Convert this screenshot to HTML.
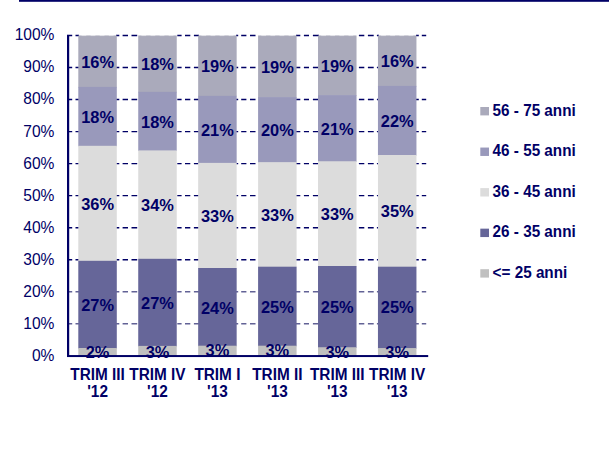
<!DOCTYPE html>
<html lang="it"><head><meta charset="utf-8"><title>Grafico</title>
<style>html,body{margin:0;padding:0;background:#fff}svg{display:block}text{font-family:"Liberation Sans",Arial,Helvetica,sans-serif;fill:#000066}.b{font-weight:bold}</style></head><body>
<svg width="609" height="465" viewBox="0 0 609 465">
<rect x="0" y="0" width="609" height="465" fill="#ffffff"/>
<rect x="19" y="0" width="590" height="1.8" fill="#000066"/>
<path d="M67.0 323.77H72.2M75.5 323.77H79.0M116.0 323.77H119.3M122.6 323.77H128.0M131.5 323.77H137.2M177.3 323.77H181.6M185.0 323.77H190.3M193.9 323.77H199.0M236.0 323.77H238.2M241.2 323.77H246.4M250.0 323.77H255.5M296.0 323.77H300.3M303.9 323.77H309.0M312.9 323.77H319.0M358.9 323.77H364.3M367.9 323.77H373.7M376.9 323.77H379.0M416.0 323.77H418.8M421.8 323.77H426.2" stroke="#626296" stroke-width="1.4" fill="none"/>
<path d="M67.0 291.74H72.2M75.5 291.74H79.0M116.0 291.74H119.3M122.6 291.74H128.0M131.5 291.74H137.2M177.3 291.74H181.6M185.0 291.74H190.3M193.9 291.74H199.0M236.0 291.74H238.2M241.2 291.74H246.4M250.0 291.74H255.5M296.0 291.74H300.3M303.9 291.74H309.0M312.9 291.74H319.0M358.9 291.74H364.3M367.9 291.74H373.7M376.9 291.74H379.0M416.0 291.74H418.8M421.8 291.74H426.2" stroke="#626296" stroke-width="1.4" fill="none"/>
<path d="M67.0 259.71H72.2M75.5 259.71H79.0M116.0 259.71H119.3M122.6 259.71H128.0M131.5 259.71H137.2M177.3 259.71H181.6M185.0 259.71H190.3M193.9 259.71H199.0M236.0 259.71H238.2M241.2 259.71H246.4M250.0 259.71H255.5M296.0 259.71H300.3M303.9 259.71H309.0M312.9 259.71H319.0M358.9 259.71H364.3M367.9 259.71H373.7M376.9 259.71H379.0M416.0 259.71H418.8M421.8 259.71H426.2" stroke="#000066" stroke-width="1.4" fill="none"/>
<path d="M67.0 227.68H72.2M75.5 227.68H79.0M116.0 227.68H119.3M122.6 227.68H128.0M131.5 227.68H137.2M177.3 227.68H181.6M185.0 227.68H190.3M193.9 227.68H199.0M236.0 227.68H238.2M241.2 227.68H246.4M250.0 227.68H255.5M296.0 227.68H300.3M303.9 227.68H309.0M312.9 227.68H319.0M358.9 227.68H364.3M367.9 227.68H373.7M376.9 227.68H379.0M416.0 227.68H418.8M421.8 227.68H426.2" stroke="#000066" stroke-width="1.4" fill="none"/>
<path d="M67.0 195.65H72.2M75.5 195.65H79.0M116.0 195.65H119.3M122.6 195.65H128.0M131.5 195.65H137.2M177.3 195.65H181.6M185.0 195.65H190.3M193.9 195.65H199.0M236.0 195.65H238.2M241.2 195.65H246.4M250.0 195.65H255.5M296.0 195.65H300.3M303.9 195.65H309.0M312.9 195.65H319.0M358.9 195.65H364.3M367.9 195.65H373.7M376.9 195.65H379.0M416.0 195.65H418.8M421.8 195.65H426.2" stroke="#000066" stroke-width="1.4" fill="none"/>
<path d="M67.0 163.62H72.2M75.5 163.62H79.0M116.0 163.62H119.3M122.6 163.62H128.0M131.5 163.62H137.2M177.3 163.62H181.6M185.0 163.62H190.3M193.9 163.62H199.0M236.0 163.62H238.2M241.2 163.62H246.4M250.0 163.62H255.5M296.0 163.62H300.3M303.9 163.62H309.0M312.9 163.62H319.0M358.9 163.62H364.3M367.9 163.62H373.7M376.9 163.62H379.0M416.0 163.62H418.8M421.8 163.62H426.2" stroke="#000066" stroke-width="1.4" fill="none"/>
<path d="M67.0 131.59H72.2M75.5 131.59H79.0M116.0 131.59H119.3M122.6 131.59H128.0M131.5 131.59H137.2M177.3 131.59H181.6M185.0 131.59H190.3M193.9 131.59H199.0M236.0 131.59H238.2M241.2 131.59H246.4M250.0 131.59H255.5M296.0 131.59H300.3M303.9 131.59H309.0M312.9 131.59H319.0M358.9 131.59H364.3M367.9 131.59H373.7M376.9 131.59H379.0M416.0 131.59H418.8M421.8 131.59H426.2" stroke="#000066" stroke-width="1.4" fill="none"/>
<path d="M67.0 99.56H72.2M75.5 99.56H79.0M116.0 99.56H119.3M122.6 99.56H128.0M131.5 99.56H137.2M177.3 99.56H181.6M185.0 99.56H190.3M193.9 99.56H199.0M236.0 99.56H238.2M241.2 99.56H246.4M250.0 99.56H255.5M296.0 99.56H300.3M303.9 99.56H309.0M312.9 99.56H319.0M358.9 99.56H364.3M367.9 99.56H373.7M376.9 99.56H379.0M416.0 99.56H418.8M421.8 99.56H426.2" stroke="#000066" stroke-width="1.4" fill="none"/>
<path d="M67.0 67.53H72.2M75.5 67.53H79.0M116.0 67.53H119.3M122.6 67.53H128.0M131.5 67.53H137.2M177.3 67.53H181.6M185.0 67.53H190.3M193.9 67.53H199.0M236.0 67.53H238.2M241.2 67.53H246.4M250.0 67.53H255.5M296.0 67.53H300.3M303.9 67.53H309.0M312.9 67.53H319.0M358.9 67.53H364.3M367.9 67.53H373.7M376.9 67.53H379.0M416.0 67.53H418.8M421.8 67.53H426.2" stroke="#000066" stroke-width="1.4" fill="none"/>
<path d="M67.0 35.50H72.2M75.5 35.50H79.0M116.0 35.50H119.3M122.6 35.50H128.0M131.5 35.50H137.2M177.3 35.50H181.6M185.0 35.50H190.3M193.9 35.50H199.0M236.0 35.50H238.2M241.2 35.50H246.4M250.0 35.50H255.5M296.0 35.50H300.3M303.9 35.50H309.0M312.9 35.50H319.0M358.9 35.50H364.3M367.9 35.50H373.7M376.9 35.50H379.0M416.0 35.50H418.8M421.8 35.50H426.2" stroke="#000066" stroke-width="1.4" fill="none"/>
<rect x="78.30" y="35.45" width="38.50" height="52.05" fill="#aaaabb"/>
<rect x="78.30" y="86.90" width="38.50" height="59.50" fill="#9999bb"/>
<rect x="78.30" y="145.80" width="38.50" height="115.60" fill="#dcdcdc"/>
<rect x="78.30" y="260.80" width="38.50" height="87.80" fill="#666699"/>
<rect x="78.30" y="348.00" width="38.50" height="8.00" fill="#c0c0c0"/>
<rect x="138.23" y="35.45" width="38.50" height="56.95" fill="#aaaabb"/>
<rect x="138.23" y="91.80" width="38.50" height="59.20" fill="#9999bb"/>
<rect x="138.23" y="150.40" width="38.50" height="109.00" fill="#dcdcdc"/>
<rect x="138.23" y="258.80" width="38.50" height="87.70" fill="#666699"/>
<rect x="138.23" y="345.90" width="38.50" height="10.10" fill="#c0c0c0"/>
<rect x="198.16" y="35.45" width="38.50" height="60.95" fill="#aaaabb"/>
<rect x="198.16" y="95.80" width="38.50" height="67.70" fill="#9999bb"/>
<rect x="198.16" y="162.90" width="38.50" height="105.70" fill="#dcdcdc"/>
<rect x="198.16" y="268.00" width="38.50" height="78.30" fill="#666699"/>
<rect x="198.16" y="345.70" width="38.50" height="10.30" fill="#c0c0c0"/>
<rect x="258.09" y="35.45" width="38.50" height="62.25" fill="#aaaabb"/>
<rect x="258.09" y="97.10" width="38.50" height="65.70" fill="#9999bb"/>
<rect x="258.09" y="162.20" width="38.50" height="105.10" fill="#dcdcdc"/>
<rect x="258.09" y="266.70" width="38.50" height="79.60" fill="#666699"/>
<rect x="258.09" y="345.70" width="38.50" height="10.30" fill="#c0c0c0"/>
<rect x="318.02" y="35.45" width="38.50" height="60.25" fill="#aaaabb"/>
<rect x="318.02" y="95.10" width="38.50" height="66.80" fill="#9999bb"/>
<rect x="318.02" y="161.30" width="38.50" height="105.30" fill="#dcdcdc"/>
<rect x="318.02" y="266.00" width="38.50" height="81.90" fill="#666699"/>
<rect x="318.02" y="347.30" width="38.50" height="8.70" fill="#c0c0c0"/>
<rect x="377.95" y="35.45" width="38.50" height="51.05" fill="#aaaabb"/>
<rect x="377.95" y="85.90" width="38.50" height="69.70" fill="#9999bb"/>
<rect x="377.95" y="155.00" width="38.50" height="112.30" fill="#dcdcdc"/>
<rect x="377.95" y="266.70" width="38.50" height="82.00" fill="#666699"/>
<rect x="377.95" y="348.10" width="38.50" height="7.90" fill="#c0c0c0"/>
<path d="M81.5 35.6H86.3M90.6 35.6H95.4M99.7 35.6H104.5M108.8 35.6H113.6M141.4 35.6H146.2M150.5 35.6H155.3M159.6 35.6H164.4M168.7 35.6H173.5M201.4 35.6H206.2M210.5 35.6H215.3M219.6 35.6H224.4M228.7 35.6H233.5M261.3 35.6H266.1M270.4 35.6H275.2M279.5 35.6H284.3M288.6 35.6H293.4M321.2 35.6H326.0M330.3 35.6H335.1M339.4 35.6H344.2M348.5 35.6H353.3M381.1 35.6H385.9M390.2 35.6H395.1M399.4 35.6H404.2M408.5 35.6H413.3" stroke="#ffffff" stroke-opacity="0.45" stroke-width="1" fill="none"/>
<rect x="67" y="34.95" width="2.2" height="321.9" fill="#000066"/>
<rect x="67" y="355.05" width="361.2" height="2.0" fill="#000066"/>
<text transform="translate(54.45,361.15) scale(0.905,1)" font-size="17.20" text-anchor="end">0%</text>
<text transform="translate(54.45,329.12) scale(0.905,1)" font-size="17.20" text-anchor="end">10%</text>
<text transform="translate(54.45,297.09) scale(0.905,1)" font-size="17.20" text-anchor="end">20%</text>
<text transform="translate(54.45,265.06) scale(0.905,1)" font-size="17.20" text-anchor="end">30%</text>
<text transform="translate(54.45,233.03) scale(0.905,1)" font-size="17.20" text-anchor="end">40%</text>
<text transform="translate(54.45,201.00) scale(0.905,1)" font-size="17.20" text-anchor="end">50%</text>
<text transform="translate(54.45,168.97) scale(0.905,1)" font-size="17.20" text-anchor="end">60%</text>
<text transform="translate(54.45,136.94) scale(0.905,1)" font-size="17.20" text-anchor="end">70%</text>
<text transform="translate(54.45,104.11) scale(0.905,1)" font-size="17.20" text-anchor="end">80%</text>
<text transform="translate(54.45,72.08) scale(0.905,1)" font-size="17.20" text-anchor="end">90%</text>
<text transform="translate(54.45,40.05) scale(0.905,1)" font-size="17.20" text-anchor="end">100%</text>
<text class="b" transform="translate(97.55,357.60) scale(0.965,1)" font-size="17.00" text-anchor="middle">2%</text>
<text class="b" transform="translate(97.55,311.20) scale(0.965,1)" font-size="17.00" text-anchor="middle">27%</text>
<text class="b" transform="translate(97.55,210.10) scale(0.965,1)" font-size="17.00" text-anchor="middle">36%</text>
<text class="b" transform="translate(97.55,123.15) scale(0.965,1)" font-size="17.00" text-anchor="middle">18%</text>
<text class="b" transform="translate(97.55,67.58) scale(0.965,1)" font-size="17.00" text-anchor="middle">16%</text>
<text class="b" transform="translate(157.48,357.60) scale(0.965,1)" font-size="17.00" text-anchor="middle">3%</text>
<text class="b" transform="translate(157.48,309.15) scale(0.965,1)" font-size="17.00" text-anchor="middle">27%</text>
<text class="b" transform="translate(157.48,211.40) scale(0.965,1)" font-size="17.00" text-anchor="middle">34%</text>
<text class="b" transform="translate(157.48,127.90) scale(0.965,1)" font-size="17.00" text-anchor="middle">18%</text>
<text class="b" transform="translate(157.48,70.42) scale(0.965,1)" font-size="17.00" text-anchor="middle">18%</text>
<text class="b" transform="translate(217.41,356.30) scale(0.965,1)" font-size="17.00" text-anchor="middle">3%</text>
<text class="b" transform="translate(217.41,313.65) scale(0.965,1)" font-size="17.00" text-anchor="middle">24%</text>
<text class="b" transform="translate(217.41,222.25) scale(0.965,1)" font-size="17.00" text-anchor="middle">33%</text>
<text class="b" transform="translate(217.41,136.15) scale(0.965,1)" font-size="17.00" text-anchor="middle">21%</text>
<text class="b" transform="translate(217.41,72.42) scale(0.965,1)" font-size="17.00" text-anchor="middle">19%</text>
<text class="b" transform="translate(277.34,356.20) scale(0.965,1)" font-size="17.00" text-anchor="middle">3%</text>
<text class="b" transform="translate(277.34,313.00) scale(0.965,1)" font-size="17.00" text-anchor="middle">25%</text>
<text class="b" transform="translate(277.34,221.25) scale(0.965,1)" font-size="17.00" text-anchor="middle">33%</text>
<text class="b" transform="translate(277.34,136.45) scale(0.965,1)" font-size="17.00" text-anchor="middle">20%</text>
<text class="b" transform="translate(277.34,73.08) scale(0.965,1)" font-size="17.00" text-anchor="middle">19%</text>
<text class="b" transform="translate(337.27,358.00) scale(0.965,1)" font-size="17.00" text-anchor="middle">3%</text>
<text class="b" transform="translate(337.27,313.45) scale(0.965,1)" font-size="17.00" text-anchor="middle">25%</text>
<text class="b" transform="translate(337.27,220.45) scale(0.965,1)" font-size="17.00" text-anchor="middle">33%</text>
<text class="b" transform="translate(337.27,135.00) scale(0.965,1)" font-size="17.00" text-anchor="middle">21%</text>
<text class="b" transform="translate(337.27,72.08) scale(0.965,1)" font-size="17.00" text-anchor="middle">19%</text>
<text class="b" transform="translate(397.20,358.00) scale(0.965,1)" font-size="17.00" text-anchor="middle">3%</text>
<text class="b" transform="translate(397.20,313.40) scale(0.965,1)" font-size="17.00" text-anchor="middle">25%</text>
<text class="b" transform="translate(397.20,217.15) scale(0.965,1)" font-size="17.00" text-anchor="middle">35%</text>
<text class="b" transform="translate(397.20,127.25) scale(0.965,1)" font-size="17.00" text-anchor="middle">22%</text>
<text class="b" transform="translate(397.20,67.48) scale(0.965,1)" font-size="17.00" text-anchor="middle">16%</text>
<text class="b" transform="translate(97.55,380.30) scale(0.888,1)" font-size="17.30" text-anchor="middle">TRIM III</text>
<text class="b" transform="translate(97.55,397.20) scale(0.888,1)" font-size="17.30" text-anchor="middle">'12</text>
<text class="b" transform="translate(157.48,380.30) scale(0.888,1)" font-size="17.30" text-anchor="middle">TRIM IV</text>
<text class="b" transform="translate(157.48,397.20) scale(0.888,1)" font-size="17.30" text-anchor="middle">'12</text>
<text class="b" transform="translate(217.41,380.30) scale(0.888,1)" font-size="17.30" text-anchor="middle">TRIM I</text>
<text class="b" transform="translate(217.41,397.20) scale(0.888,1)" font-size="17.30" text-anchor="middle">'13</text>
<text class="b" transform="translate(277.34,380.30) scale(0.888,1)" font-size="17.30" text-anchor="middle">TRIM II</text>
<text class="b" transform="translate(277.34,397.20) scale(0.888,1)" font-size="17.30" text-anchor="middle">'13</text>
<text class="b" transform="translate(337.27,380.30) scale(0.888,1)" font-size="17.30" text-anchor="middle">TRIM III</text>
<text class="b" transform="translate(337.27,397.20) scale(0.888,1)" font-size="17.30" text-anchor="middle">'13</text>
<text class="b" transform="translate(397.20,380.30) scale(0.888,1)" font-size="17.30" text-anchor="middle">TRIM IV</text>
<text class="b" transform="translate(397.20,397.20) scale(0.888,1)" font-size="17.30" text-anchor="middle">'13</text>
<rect x="480.3" y="107.00" width="8.7" height="8.4" fill="#aaaabb"/>
<text class="b" transform="translate(492.60,115.60) scale(0.955,1)" font-size="16.00" text-anchor="start">56 - 75 anni</text>
<rect x="480.3" y="147.55" width="8.7" height="8.4" fill="#9999bb"/>
<text class="b" transform="translate(492.60,156.15) scale(0.955,1)" font-size="16.00" text-anchor="start">46 - 55 anni</text>
<rect x="480.3" y="188.10" width="8.7" height="8.4" fill="#dcdcdc"/>
<text class="b" transform="translate(492.60,196.70) scale(0.955,1)" font-size="16.00" text-anchor="start">36 - 45 anni</text>
<rect x="480.3" y="228.65" width="8.7" height="8.4" fill="#666699"/>
<text class="b" transform="translate(492.60,237.25) scale(0.955,1)" font-size="16.00" text-anchor="start">26 - 35 anni</text>
<rect x="480.3" y="269.20" width="8.7" height="8.4" fill="#c0c0c0"/>
<text class="b" transform="translate(492.60,277.80) scale(0.955,1)" font-size="16.00" text-anchor="start">&lt;= 25 anni</text>
</svg></body></html>
